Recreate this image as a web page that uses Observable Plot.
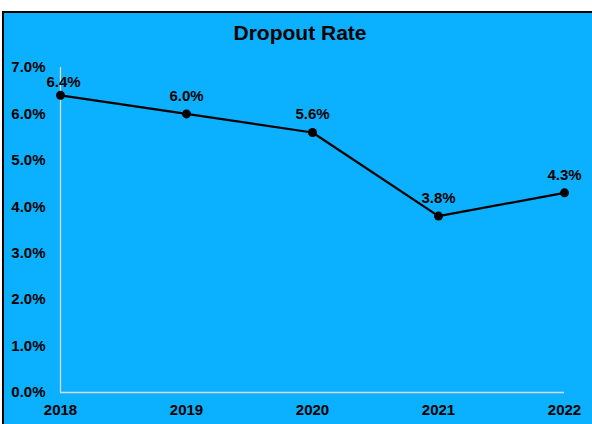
<!DOCTYPE html>
<html>
<head>
<meta charset="utf-8">
<script src="https://cdn.jsdelivr.net/npm/d3@7"></script>
<script src="https://cdn.jsdelivr.net/npm/@observablehq/plot@0.6"></script>
<style>
  html, body { margin: 0; padding: 0; background: #ffffff; overflow: hidden; }
  #wrap { position: relative; width: 592px; height: 424px; overflow: hidden; }
  #frame { position: absolute; left: 2px; top: 11px; width: 700px; height: 500px;
           background: #0BB0FF; border-top: 2px solid #000; border-left: 2px solid #000; }
  #title { position: absolute; left: 0; top: 22px; width: 600px; text-align: center;
           font-family: "Liberation Sans", Arial, sans-serif; font-weight: bold; font-size: 21px;
           line-height: 1; color: #000; }
  #chart { position: absolute; left: 0; top: 0; }
</style>
</head>
<body>
<div id="wrap">
  <div id="frame"></div>
  <div id="title">Dropout Rate</div>
  <div id="chart"></div>
</div>
<script>
const years = [2018, 2019, 2020, 2021, 2022];
const rates = [6.4, 6.0, 5.6, 3.8, 4.3];
const yTicks = [0, 1, 2, 3, 4, 5, 6, 7];

const data = years.map((year, i) => ({year, rate: rates[i], i}));
const fmt = d => d.toFixed(1) + "%";
const FS = 15;

const chart = Plot.plot({
  width: 592,
  height: 424,
  marginLeft: 60,
  marginRight: 28,
  marginTop: 67,
  marginBottom: 32,
  style: {
    background: "transparent",
    fontFamily: "'Liberation Sans', Arial, sans-serif",
    fontWeight: "bold",
    color: "#000",
    overflow: "visible"
  },
  x: {type: "linear", domain: [2018, 2022]},
  y: {domain: [0, 7]},
  marks: [
    Plot.ruleX([2018], {stroke: "#d9d9d9", strokeWidth: 1.3}),
    Plot.ruleY([0], {stroke: "#d9d9d9", strokeWidth: 1.3}),
    Plot.axisX(years, {tickSize: 0, tickPadding: 12, tickFormat: d => String(d), label: null, fill: "#000", fontSize: FS, fontWeight: "bold"}),
    Plot.axisY(yTicks, {tickSize: 0, tickPadding: 15, tickFormat: fmt, label: null, fill: "#000", fontSize: FS, fontWeight: "bold"}),
    Plot.line(data, {x: "year", y: "rate", stroke: "#000", strokeWidth: 2.2}),
    Plot.dot(data, {x: "year", y: "rate", r: 4.5, fill: "#000", stroke: "none"}),
    Plot.text(data.filter(d => d.i === 0), {x: "year", y: "rate", text: d => fmt(d.rate), dy: -13, dx: 3, fill: "#000", fontSize: FS, fontWeight: "bold"}),
    Plot.text(data.filter(d => d.i > 0), {x: "year", y: "rate", text: d => fmt(d.rate), dy: -18, fill: "#000", fontSize: FS, fontWeight: "bold"})
  ]
});
document.getElementById("chart").appendChild(chart);
</script>
</body>
</html>
